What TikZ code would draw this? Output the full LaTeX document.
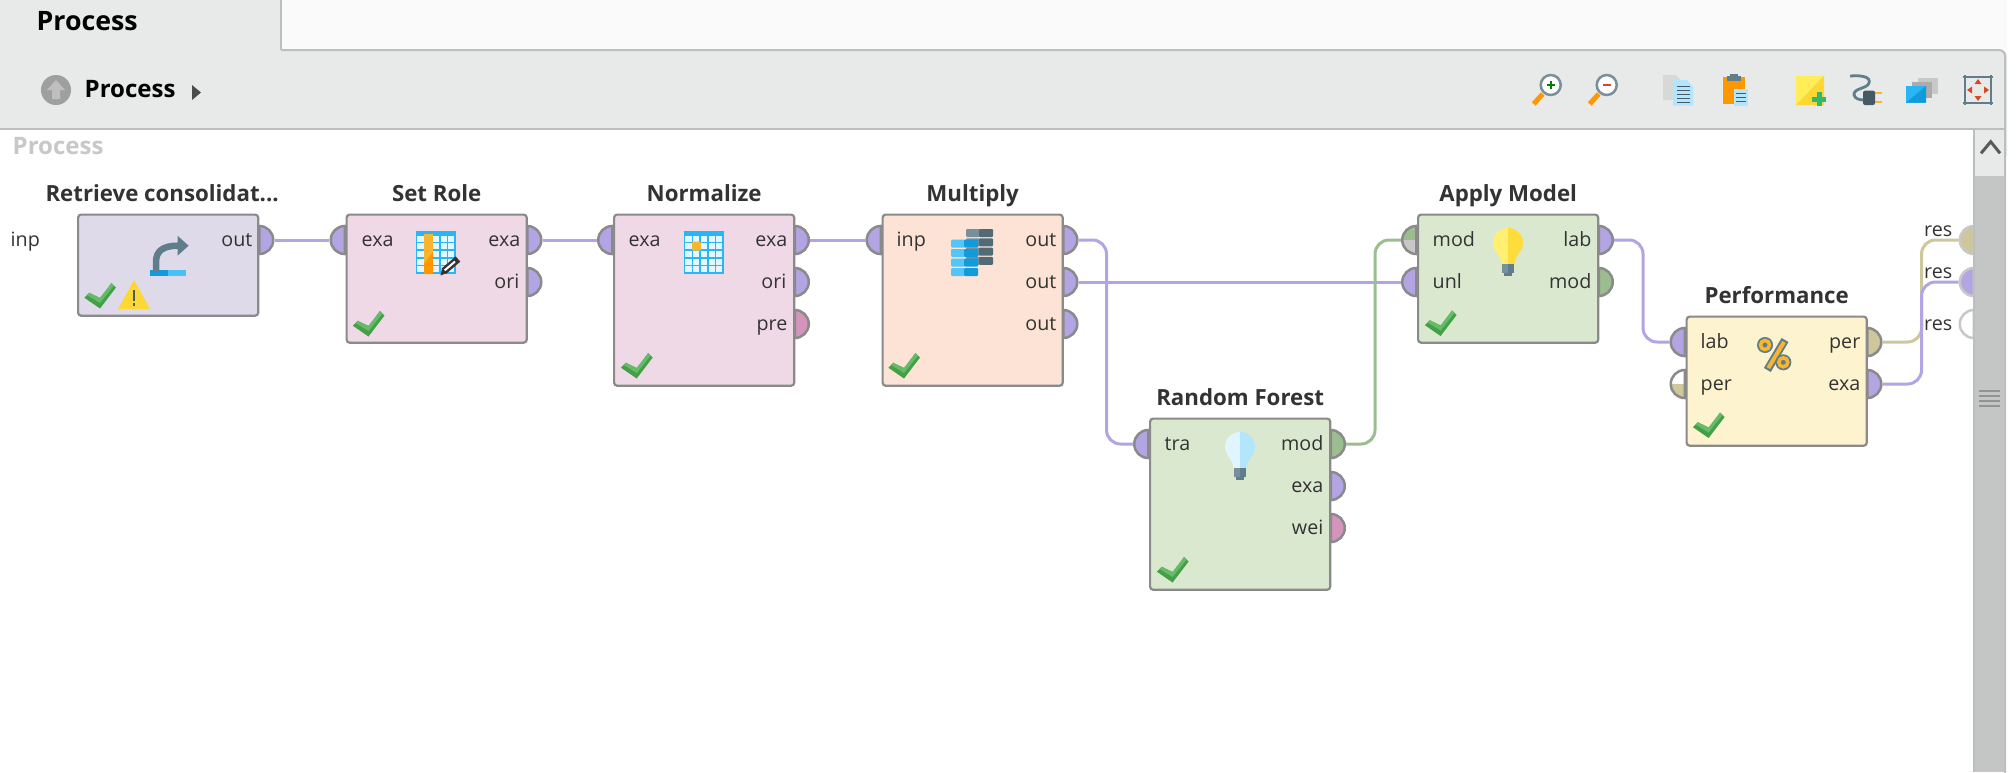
\documentclass[tikz,border=0pt]{standalone}
\usepackage{fontspec}
\setmainfont{Open Sans}
\usetikzlibrary{positioning,shapes.geometric}

\definecolor{barfill}{HTML}{E8EAEA}
\definecolor{barline}{HTML}{BDBFBE}
\definecolor{thumbfill}{HTML}{C4C6C5}
\definecolor{edgegray}{HTML}{8A8A8A}
\definecolor{resgray}{HTML}{C8C8C8}
\definecolor{txtdark}{HTML}{333333}
\definecolor{retrievefill}{HTML}{DFDAEA}
\definecolor{prepfill}{HTML}{F0D9E6}
\definecolor{multfill}{HTML}{FDE3D5}
\definecolor{modelfill}{HTML}{DAE8D0}
\definecolor{perffill}{HTML}{FDF4CF}
\definecolor{exaport}{HTML}{B3A4E3}
\definecolor{modport}{HTML}{9CBD8F}
\definecolor{preport}{HTML}{D494BC}
\definecolor{perport}{HTML}{CDC79B}
\definecolor{okdark}{HTML}{43A047}
\definecolor{oklight}{HTML}{66BB6A}
\definecolor{icoblue}{HTML}{29B6F6}
\definecolor{icodeep}{HTML}{129BDB}
\definecolor{icosky}{HTML}{B3E5FC}
\definecolor{icoslate}{HTML}{607D8B}
\definecolor{icosteel}{HTML}{78909C}
\definecolor{icodark}{HTML}{455A64}
\definecolor{icoorange}{HTML}{FF9800}
\definecolor{icoamber}{HTML}{F9B52D}
\definecolor{icoyellow}{HTML}{FDD835}
\definecolor{icopale}{HTML}{FFEE58}
\definecolor{icogreen}{HTML}{2EB872}
\definecolor{icored}{HTML}{E0451F}

\tikzset{
  opbox/.style={draw=edgegray, line width=.022cm, rounded corners=.03cm, anchor=north west, minimum width=1.8cm, inner sep=0pt},
  optitle/.style={text=txtdark, font=\fontsize{6.33}{7}\selectfont\bfseries, inner sep=0pt, text depth=0pt},
  barlabel/.style={text=black, font=\fontsize{6.83}{8}\selectfont\bfseries, inner sep=0pt, anchor=base west},
  portl/.style={text=txtdark, font=\fontsize{5.6}{7}\selectfont, inner sep=0pt, anchor=mid west, yshift=.027cm},
  portr/.style={text=txtdark, font=\fontsize{5.6}{7}\selectfont, inner sep=0pt, anchor=mid east, yshift=.027cm, xshift=.01cm},
  outport/.style={semicircle, shape border rotate=270, draw=edgegray, line width=.025cm, minimum width=.28cm, minimum height=.14cm, inner sep=0pt, anchor=chord center},
  inport/.style={outport, shape border rotate=90},
  wire/.style={line width=.03cm, rounded corners=.14cm},
  okmark/.pic={
    \fill[okdark] (.3,14.7) -- (5.3,9.7) -- (16,17) -- (27.4,0) -- (32,4.5) -- (16,25.5) -- cycle;
    \fill[oklight] (16,14.7) -- (27.4,0) -- (30,2.5) -- (16,20) -- (3,12) -- (5.3,9.7) -- cycle;
  },
  datagrid/.pic={
    \fill[icoblue] (0,0) rectangle (40,43);
    \foreach \c in {0,...,4}
      \foreach \r in {0,...,4}
        \fill[icosky!35!white] (1.4+\c*7.7,4.7+\r*7.6) rectangle ++(6.1,6);
  }
}

% glass colours: left, right
\newcommand{\bulbicon}[4]{
  \fill[#3] (#1,#2+36) -- (#1-6.5,#2+36) .. controls (#1-7,#2+26) and (#1-15,#2+24) .. (#1-15,#2+15) .. controls (#1-15,#2+6) and (#1-8,#2) .. (#1,#2) -- cycle;
  \fill[#4] (#1,#2+36) -- (#1+6.5,#2+36) .. controls (#1+7,#2+26) and (#1+15,#2+24) .. (#1+15,#2+15) .. controls (#1+15,#2+6) and (#1+8,#2) .. (#1,#2) -- cycle;
  \fill[icosteel] (#1-6.3,#2+36) rectangle (#1,#2+45);
  \fill[icoslate] (#1,#2+36) rectangle (#1+6.3,#2+45);
  \fill[icoslate] (#1-4,#2+45) rectangle (#1+4,#2+48);
}
\newcommand{\lensicon}[2]{
  \draw[icoorange, line width=.05cm] (#1-17,#2+19) -- (#1-8,#2+9);
  \draw[icosteel, line width=.025cm, fill=white] (#1,#2) circle (.1cm);
}

\begin{document}
\begin{tikzpicture}[x=.01cm, y=-.01cm]
\useasboundingbox (0,0) rectangle (2016,772);
\clip (0,0) rectangle (2016,772);

\fill[white] (0,0) rectangle (2016,772);
\fill[white!98!black] (281,0) rectangle (2007,50);
\fill[barfill] (0,0) rectangle (281,50);
\fill[barfill, rounded corners=.06cm] (-20,50) -- (2007,50) -- (2007,160) -- (-20,160) -- cycle;
\fill[white] (0,129) rectangle (1974,772);
\draw[barline, line width=.02cm] (281,0) -- (281,50);
\draw[barline, line width=.02cm, rounded corners=.06cm] (281,50) -- (2005,50) -- (2005,800);
\draw[barline, line width=.02cm] (0,129) -- (2005,129);

\node[barlabel, font=\fontsize{7.6}{8}\selectfont\bfseries] (tabtitle) at (36,30) {Process};
\fill[gray!75] (56,90) circle (.15cm);
\fill[gray!50] (56,80) -- (65,90) -- (60,90) -- (60,99) -- (52,99) -- (52,90) -- (47,90) -- cycle;
\node[barlabel] (crumb) at (84,97) {Process};
\fill[black!70] (192,85) -- (201,92.5) -- (192,100) -- cycle;
\node[barlabel, text=resgray] (canvastitle) at (12,154) {Process};

% toolbar
\lensicon{1550.7}{85}
\fill[green!50!black] (1549.5,81) rectangle (1552,89);
\fill[green!50!black] (1546.7,83.8) rectangle (1554.7,86.2);
\lensicon{1606.7}{85}
\fill[icored] (1602.7,83.8) rectangle (1610.7,86.2);

\fill[resgray!70] (1663,75) -- (1676,75) -- (1682,82) -- (1682,100) -- (1663,100) -- cycle;
\fill[icosky] (1673,80) -- (1687,80) -- (1693,87) -- (1693,105.6) -- (1673,105.6) -- cycle;
\foreach \y in {86,90,94,98,102}
  \draw[icodark, line width=.01cm] (1677,\y) -- (1690,\y);

\fill[icoorange] (1723,76.7) rectangle (1745,104);
\fill[icoslate] (1726.7,76) rectangle (1741.3,80.7);
\fill[icoslate] (1730,74) rectangle (1738,77);
\fill[icosky] (1734,89) rectangle (1748,105.7);
\foreach \y in {93,97,101}
  \draw[icodark, line width=.01cm] (1736,\y) -- (1746,\y);

\fill[icopale] (1796,75.7) rectangle (1824,105);
\fill[icoyellow] (1824,75.7) -- (1824,105) -- (1796,105) -- cycle;
\fill[icogreen] (1816.7,92) rectangle (1821.5,106);
\fill[icogreen] (1812,96.8) rectangle (1826,101.6);

\draw[icoslate, line width=.028cm] (1850,76) .. controls (1862,75) and (1871,77) .. (1869,83) .. controls (1867,89) and (1853,88) .. (1854,95) .. controls (1855,99) and (1860,100) .. (1864,100);
\fill[icoamber] (1873,91.7) rectangle (1881.7,94);
\fill[icoamber] (1873,100.7) rectangle (1881.7,103);
\fill[icodark, rounded corners=.02cm] (1863,90.7) rectangle (1875,105);

\fill[resgray] (1918,78) rectangle (1938,94);
\fill[gray!65] (1912,82) rectangle (1932,98);
\fill[icoblue] (1906,86) rectangle (1926,102.7);
\fill[icodeep] (1926,86) -- (1926,102.7) -- (1906,102.7) -- cycle;

\draw[icoslate, line width=.025cm] (1963,77) -- (1993,77);
\draw[icoslate, line width=.025cm] (1963,103) -- (1993,103);
\draw[icoslate, line width=.025cm] (1965,75) -- (1965,105);
\draw[icoslate, line width=.025cm] (1991,75) -- (1991,105);
\fill[icored] (1978,79) -- (1981.5,84) -- (1974.5,84) -- cycle;
\fill[icored] (1978,101) -- (1981.5,96) -- (1974.5,96) -- cycle;
\fill[icored] (1967,90) -- (1972,86.5) -- (1972,93.5) -- cycle;
\fill[icored] (1989,90) -- (1984,86.5) -- (1984,93.5) -- cycle;

% operators
\node[opbox, fill=retrievefill, minimum height=1.01cm] (retrieve) at (77,213.5) {};
\node[opbox, fill=prepfill, minimum height=1.28cm] (setrole) at (345.5,213.5) {};
\node[opbox, fill=prepfill, minimum height=1.71cm] (normalize) at (613,213.5) {};
\node[opbox, fill=multfill, minimum height=1.71cm] (multiply) at (881.5,213.5) {};
\node[opbox, fill=modelfill, minimum height=1.28cm] (apply) at (1417,213.5) {};
\node[opbox, fill=modelfill, minimum height=1.71cm] (forest) at (1149,417.5) {};
\node[opbox, fill=perffill, minimum height=1.29cm] (perf) at (1685.5,315.5) {};

\node[optitle, above=.115cm of retrieve, xshift=-.06cm] (retrievetitle) {Retrieve consolidat...};
\node[optitle, above=.115cm of setrole] (setroletitle) {Set Role};
\node[optitle, above=.115cm of normalize] (normalizetitle) {Normalize};
\node[optitle, above=.115cm of multiply] (multiplytitle) {Multiply};
\node[optitle, above=.115cm of apply] (applytitle) {Apply Model};
\node[optitle, above=.115cm of forest] (foresttitle) {Random Forest};
\node[optitle, above=.115cm of perf] (perftitle) {Performance};

% ports
\node[inport, draw=resgray, fill=white] (inpL) at (-11.5,240) {};
\node[outport, fill=exaport] (retrieveO) at (258,240) {};
\node[inport, fill=exaport] (setroleI) at (346,240) {};
\node[outport, fill=exaport] (setroleO) at (526,240) {};
\node[outport, fill=exaport] (setroleP) at (526,282) {};
\node[inport, fill=exaport] (normalizeI) at (613.5,240) {};
\node[outport, fill=exaport] (normalizeO) at (793.5,240) {};
\node[outport, fill=exaport] (normalizeP) at (793.5,282) {};
\node[outport, fill=preport] (normalizeQ) at (793.5,324) {};
\node[inport, fill=exaport] (multiplyI) at (882,240) {};
\node[outport, fill=exaport] (multiplyA) at (1062,240) {};
\node[outport, fill=exaport] (multiplyB) at (1062,282) {};
\node[outport, fill=exaport] (multiplyC) at (1062,324) {};
\node[inport, fill=exaport] (forestI) at (1149.5,444) {};
\node[outport, fill=modport] (forestM) at (1329.5,444) {};
\node[outport, fill=exaport] (forestE) at (1329.5,486) {};
\node[outport, fill=preport] (forestW) at (1329.5,528) {};
\node[inport, fill=resgray, path picture={\fill[modport] (path picture bounding box.north west) rectangle (path picture bounding box.east);}] (applyM) at (1417.5,240) {};
\node[inport, fill=exaport] (applyU) at (1417.5,282) {};
\node[outport, fill=exaport] (applyL) at (1597.5,240) {};
\node[outport, fill=modport] (applyO) at (1597.5,282) {};
\node[inport, fill=exaport] (perfL) at (1686,342) {};
\node[inport, fill=perport, path picture={\fill[white] (path picture bounding box.north west) rectangle (path picture bounding box.east);}] (perfP) at (1686,384) {};
\node[outport, fill=perport] (perfO) at (1866,342) {};
\node[outport, fill=exaport] (perfE) at (1866,384) {};
\node[inport, draw=resgray, fill=perport] (resA) at (1975,240) {};
\node[inport, draw=resgray, fill=exaport] (resB) at (1975,282) {};
\node[inport, draw=resgray, fill=white] (resC) at (1975,324) {};

% port labels
\node[portl] (inpT) at (10,240) {inp};
\node[portr] (retrieveT) at (252,240) {out};
\node[portl] (setroleIT) at (361,240) {exa};
\node[portr] (setroleOT) at (520,240) {exa};
\node[portr] (setrolePT) at (519,282) {ori};
\node[portl] (normalizeIT) at (628,240) {exa};
\node[portr] (normalizeOT) at (787,240) {exa};
\node[portr] (normalizePT) at (786,282) {ori};
\node[portr] (normalizeQT) at (787,324) {pre};
\node[portl] (multiplyIT) at (896,240) {inp};
\node[portr] (multiplyAT) at (1056,240) {out};
\node[portr] (multiplyBT) at (1056,282) {out};
\node[portr] (multiplyCT) at (1056,324) {out};
\node[portl] (forestIT) at (1164,444) {tra};
\node[portr] (forestMT) at (1323,444) {mod};
\node[portr] (forestET) at (1323,486) {exa};
\node[portr] (forestWT) at (1323,528) {wei};
\node[portl] (applyMT) at (1432,240) {mod};
\node[portl] (applyUT) at (1432,282) {unl};
\node[portr] (applyLT) at (1591,240) {lab};
\node[portr] (applyOT) at (1591,282) {mod};
\node[portl] (perfLT) at (1700,342) {lab};
\node[portl] (perfPT) at (1700,384) {per};
\node[portr] (perfOT) at (1860,342) {per};
\node[portr] (perfET) at (1860,384) {exa};
\node[portr] (resAT) at (1952,230) {res};
\node[portr] (resBT) at (1952,272) {res};
\node[portr] (resCT) at (1952,324) {res};

% wires
\draw[wire, exaport] (retrieveO.apex) -- (setroleI.apex);
\draw[wire, exaport] (setroleO.apex) -- (normalizeI.apex);
\draw[wire, exaport] (normalizeO.apex) -- (multiplyI.apex);
\draw[wire, exaport] (multiplyA.apex) -- ++(28,0) |- (forestI.apex);
\draw[wire, exaport] (multiplyB.apex) -- (applyU.apex);
\draw[wire, modport] (forestM.apex) -- ++(29,0) |- (applyM.apex);
\draw[wire, exaport] (applyL.apex) -- ++(29,0) |- (perfL.apex);
\draw[wire, perport] (perfO.apex) -- ++(39,0) |- (resA.apex);
\draw[wire, exaport] (perfE.apex) -- ++(39,0) |- (resB.apex);

% icons
\fill[icodeep] (150,270) rectangle (168,276);
\fill[icoblue!85!white] (168,270) rectangle (186,276);
\draw[icoslate, line width=.065cm] (156,271) -- (156,262) .. controls (156,251) and (163,245.7) .. (178,245.7);
\fill[icoslate] (177.5,235.7) -- (188.6,245.7) -- (177.5,255.7) -- cycle;
\fill[icoyellow] (134,280) -- (150,309) -- (118,309) -- cycle;
\fill[icodark] (132.6,290) rectangle (135.4,301);
\fill[icodark] (132.6,303) rectangle (135.4,306);

\pic at (416,231) {datagrid};
\fill[icoamber] (424,234) rectangle (433,274);
\fill[icoorange] (433,252) -- (433,274) -- (424,274) -- (424,264) -- cycle;
\draw[black!80, line width=.07cm] (444,271) -- (458,259);
\draw[white, line width=.02cm] (444.5,270.5) -- (455,261.5);
\fill[black!80] (440.5,275.5) -- (442,268) -- (447,273) -- cycle;

\pic at (684,231) {datagrid};
\fill[icoamber, rounded corners=.01cm] (692,241.7) rectangle (701,250.7);

\foreach \y in {229,238.3,247.6,256.9} {
  \fill[icosteel, rounded corners=.01cm] (966,\y) rectangle (980,\y+8);
  \fill[icoslate!85!black, rounded corners=.01cm] (979,\y) rectangle (993,\y+8);
}
\foreach \y in {239.5,249,258.5,268} {
  \fill[icoblue!80!white, rounded corners=.01cm] (951,\y) rectangle (965,\y+8);
  \fill[icodeep, rounded corners=.01cm] (964,\y) rectangle (978,\y+8);
}

\bulbicon{1508}{228}{icopale!85!white}{icoyellow!80!icopale}
\bulbicon{1240}{432}{icosky!40!white}{icosky}

\draw[icoslate, line width=.08cm] (1785,340) -- (1767.3,370);
\draw[icoamber, line width=.04cm] (1784,342) -- (1768.3,368);
\draw[icoslate, line width=.03cm, fill=icoslate] (1765,345) circle (.065cm);
\draw[icoamber, line width=.035cm] (1765,345) circle (.045cm);
\draw[icoslate, line width=.03cm, fill=icoslate] (1783.3,362.3) circle (.065cm);
\draw[icoamber, line width=.035cm] (1783.3,362.3) circle (.045cm);

\pic at (84,283) {okmark};
\pic at (352.5,311) {okmark};
\pic at (620.7,353) {okmark};
\pic at (888,353) {okmark};
\pic at (1424.6,310.5) {okmark};
\pic at (1156.6,557) {okmark};
\pic at (1692.6,412.5) {okmark};

% scroll bar
\fill[barfill] (1974,130) rectangle (2004,772);
\fill[thumbfill] (1974,176) rectangle (2004,772);
\draw[barline, line width=.015cm] (1974,130) -- (1974,772);
\draw[black!65, line width=.03cm] (1981,153.3) -- (1990.7,141.7) -- (2000,153.3);
\foreach \y in {391,396,401,406}
  \draw[gray!85, line width=.015cm] (1979,\y) -- (2000,\y);

\end{tikzpicture}
\end{document}
